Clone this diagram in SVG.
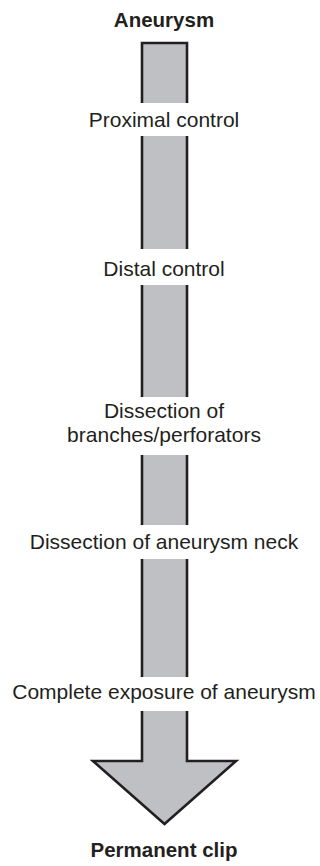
<svg xmlns="http://www.w3.org/2000/svg" width="320" height="866" viewBox="0 0 320 866">
<style>
  .fill { fill: #bfc0c3; stroke: none; }
  .edge { fill: none; stroke: #231f20; stroke-width: 2.6; stroke-linejoin: miter; }
  .lbl { font-family: "Liberation Sans", Arial, sans-serif; font-size: 21px; fill: #231f20; text-anchor: middle; }
  .ttl { font-family: "Liberation Sans", Arial, sans-serif; font-size: 20.5px; font-weight: bold; fill: #231f20; text-anchor: middle; }
</style>
<rect width="320" height="866" fill="#ffffff"/>
<g id="connectors">
  <g id="seg1">
    <rect class="fill" x="142" y="43" width="45" height="60"/>
    <path class="edge" d="M142,103 V43 H187 V103"/>
  </g>
  <g id="seg2">
    <rect class="fill" x="142" y="136" width="45" height="113"/>
    <path class="edge" d="M142,136 V249 M187,136 V249"/>
  </g>
  <g id="seg3">
    <rect class="fill" x="142" y="285" width="45" height="112"/>
    <path class="edge" d="M142,285 V397 M187,285 V397"/>
  </g>
  <g id="seg4">
    <rect class="fill" x="142" y="455" width="45" height="70"/>
    <path class="edge" d="M142,455 V525 M187,455 V525"/>
  </g>
  <g id="seg5">
    <rect class="fill" x="142" y="559" width="45" height="118"/>
    <path class="edge" d="M142,559 V677 M187,559 V677"/>
  </g>
  <g id="head">
    <path class="fill" d="M142,711 V761 H93 L164.5,824 L236,761 H187 V711 Z"/>
    <path class="edge" d="M142,711 V761 H93 L164.5,824 L236,761 H187 V711"/>
  </g>
</g>
<g id="n-aneurysm"><text class="ttl" x="164" y="27">Aneurysm</text></g>
<g id="n-proximal"><text class="lbl" x="164" y="127">Proximal control</text></g>
<g id="n-distal"><text class="lbl" x="164" y="276">Distal control</text></g>
<g id="n-branches"><text class="lbl" x="164" y="418">Dissection of</text><text class="lbl" x="164" y="442">branches/perforators</text></g>
<g id="n-neck"><text class="lbl" x="164" y="549">Dissection of aneurysm neck</text></g>
<g id="n-exposure"><text class="lbl" x="164" y="699">Complete exposure of aneurysm</text></g>
<g id="n-clip"><text class="ttl" x="164" y="857">Permanent clip</text></g>
</svg>
